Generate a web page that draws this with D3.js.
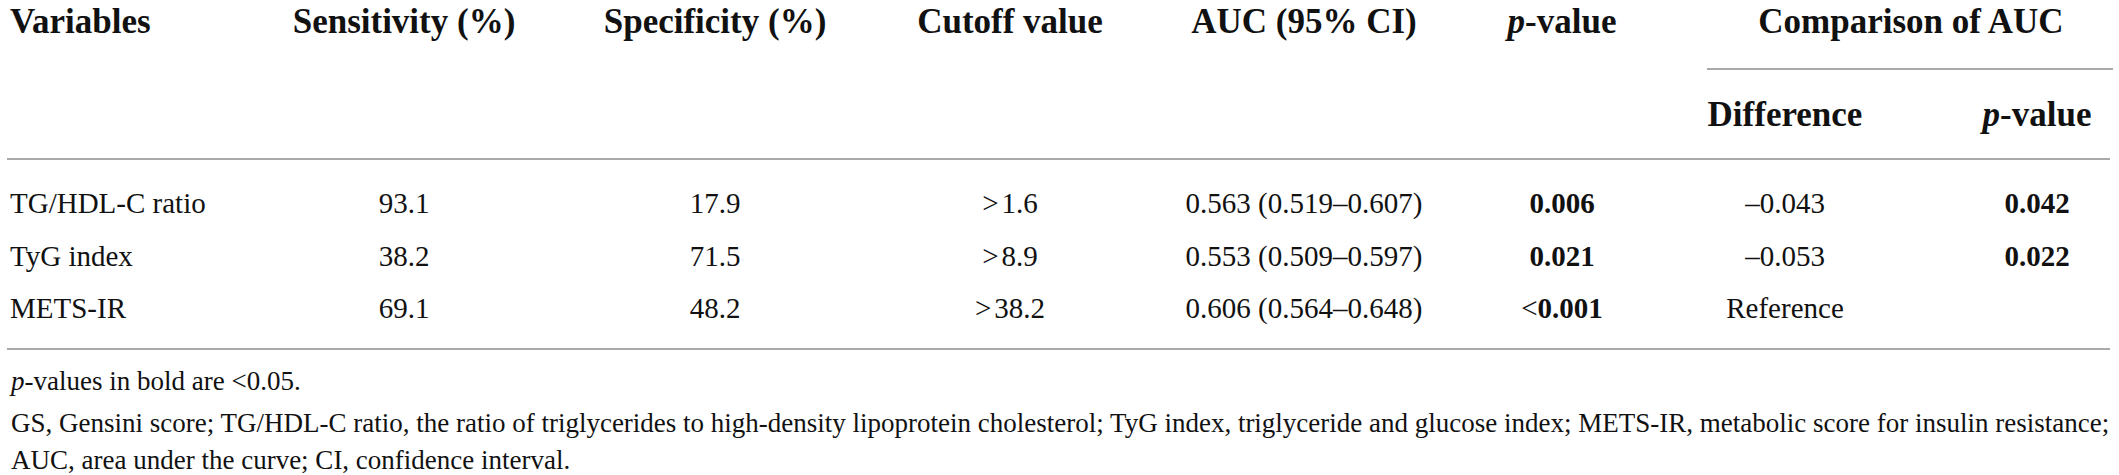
<!DOCTYPE html>
<html>
<head>
<meta charset="utf-8">
<script src="https://cdn.jsdelivr.net/npm/d3@7"></script>
<style>
  html, body { margin: 0; padding: 0; background: #fff; }
  svg text { font-family: "Liberation Serif", "Times New Roman", serif; fill: #111; }
</style>
</head>
<body>
<div id="viz"></div>
<script>
// table values
const variables = ['TG/HDL-C ratio', 'TyG index', 'METS-IR'];
const sensitivity = [93.1, 38.2, 69.1];
const specificity = [17.9, 71.5, 48.2];
const cutoff = [1.6, 8.9, 38.2];
const auc = [0.563, 0.553, 0.606];
const aucLow = [0.519, 0.509, 0.564];
const aucHigh = [0.607, 0.597, 0.648];
const pValue = [0.006, 0.021, 0.001];
const pUpperBound = [false, false, true];
const aucDiff = [-0.043, -0.053, null];
const diffP = [0.042, 0.022, null];

const columns = ['var', 'sens', 'spec', 'cut', 'auc', 'p', 'diff', 'diffP'];
const headerTop = ['Variables', 'Sensitivity (%)', 'Specificity (%)', 'Cutoff value', 'AUC (95% CI)', 'p-value'];
const groupHeader = 'Comparison of AUC';
const headerSub = ['Difference', 'p-value'];
const footnotes = [
  'p-values in bold are <0.05.',
  'GS, Gensini score; TG/HDL-C ratio, the ratio of triglycerides to high-density lipoprotein cholesterol; TyG index, triglyceride and glucose index; METS-IR, metabolic score for insulin resistance;',
  'AUC, area under the curve; CI, confidence interval.',
];

const width = 2119;
const height = 475;
const ruleColor = '#a9a9a9';

const svg = d3.select('#viz').append('svg')
  .attr('width', width)
  .attr('height', height);

// column centres (first column is left aligned)
const x = d3.scaleOrdinal()
  .domain(columns)
  .range([10, 404, 715, 1010, 1304, 1562, 1785, 2037]);

const y = d3.scalePoint()
  .domain(variables)
  .range([213, 318]);

const f1 = d3.format('.1f');
const f3 = d3.format('.3f');
const dash = (v) => f3(v).replace('\u2212', '\u2013');

// helper: text with italic leading "p"
function pLabel(sel, str) {
  sel.append('tspan').style('font-style', 'italic').text('p');
  sel.append('tspan').text(str.slice(1));
}

// header row 1
const head = svg.append('g').style('font-weight', 'bold').style('font-size', '35px');
headerTop.forEach((h, i) => {
  const t = head.append('text')
    .attr('x', x(columns[i]))
    .attr('y', 33)
    .attr('text-anchor', i === 0 ? 'start' : 'middle');
  if (h.startsWith('p-')) pLabel(t, h); else t.text(h);
});
head.append('text')
  .attr('x', 1911)
  .attr('y', 33)
  .attr('text-anchor', 'middle')
  .text(groupHeader);

// header row 2
headerSub.forEach((h, i) => {
  const t = head.append('text')
    .attr('x', x(columns[6 + i]))
    .attr('y', 126)
    .attr('text-anchor', 'middle');
  if (h.startsWith('p-')) pLabel(t, h); else t.text(h);
});

// rules
svg.append('line')
  .attr('x1', 1707).attr('x2', 2113)
  .attr('y1', 69).attr('y2', 69)
  .attr('stroke', ruleColor).attr('stroke-width', 2);
[159, 349].forEach((ry) => {
  svg.append('line')
    .attr('x1', 7).attr('x2', 2110)
    .attr('y1', ry).attr('y2', ry)
    .attr('stroke', ruleColor).attr('stroke-width', 2);
});

// body rows
const body = svg.append('g').style('font-size', '29px');
const rows = body.selectAll('g.row')
  .data(variables)
  .join('g')
  .attr('class', 'row')
  .attr('transform', (d) => `translate(0,${y(d)})`);

rows.append('text').attr('x', x('var')).text((d) => d);

function cell(key, fn) {
  rows.append('text')
    .attr('x', x(key))
    .attr('text-anchor', 'middle')
    .each(function (d, i) { fn(d3.select(this), i); });
}

cell('sens', (t, i) => t.text(f1(sensitivity[i])));
cell('spec', (t, i) => t.text(f1(specificity[i])));
cell('cut', (t, i) => {
  t.append('tspan').text('>');
  t.append('tspan').attr('dx', 3).text(f1(cutoff[i]));
});
cell('auc', (t, i) => t.text(`${f3(auc[i])} (${f3(aucLow[i])}\u2013${f3(aucHigh[i])})`));
cell('p', (t, i) => {
  if (pUpperBound[i]) t.append('tspan').text('<');
  t.append('tspan').style('font-weight', pValue[i] < 0.05 ? 'bold' : 'normal').text(f3(pValue[i]));
});
cell('diff', (t, i) => t.text(aucDiff[i] === null ? 'Reference' : dash(aucDiff[i])));
cell('diffP', (t, i) => {
  if (diffP[i] === null) return;
  t.style('font-weight', diffP[i] < 0.05 ? 'bold' : 'normal').text(f3(diffP[i]));
});

// footnotes
const foot = svg.append('g').style('font-size', '27px');
const footY = [390, 432, 469];
footnotes.forEach((fn, i) => {
  const t = foot.append('text').attr('x', 11).attr('y', footY[i]);
  if (fn.startsWith('p-')) pLabel(t, fn); else t.text(fn);
});
</script>
</body>
</html>
